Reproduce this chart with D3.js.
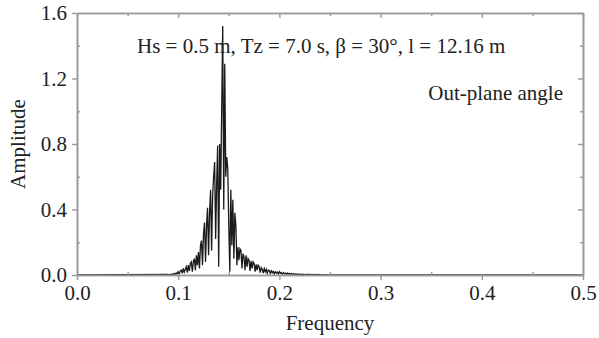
<!DOCTYPE html>
<html>
<head>
<meta charset="utf-8">
<script src="https://cdn.jsdelivr.net/npm/d3@7"></script>
<style>
  body { margin: 0; background: #fff; }
  text { font-family: "Liberation Serif", "Times New Roman", serif; fill: #222; }
</style>
</head>
<body>
<div id="chart"></div>
<script>
// spectrum, frequency grid 0.090 .. 0.250 step 0.001
const freqStart = 0.090;
const freqStep = 0.001;
const amplitude = [
  0.003, 0.001, 0.004, 0.002, 0.006, 0.002, 0.010, 0.004, 0.012, 0.006,
  0.020, 0.008, 0.024, 0.030, 0.010, 0.040, 0.018, 0.035, 0.050, 0.015,
  0.060, 0.025, 0.070, 0.080, 0.020, 0.085, 0.100, 0.030, 0.120, 0.060,
  0.140, 0.040, 0.180, 0.210, 0.060, 0.250, 0.320, 0.080, 0.300, 0.410,
  0.120, 0.380, 0.520, 0.150, 0.480, 0.600, 0.690, 0.220, 0.560, 0.790,
  0.050, 0.800, 0.520, 1.030, 1.520, 0.400, 1.290, 0.600, 0.720, 0.650,
  0.300, 0.020, 0.520, 0.180, 0.460, 0.100, 0.380, 0.300, 0.060, 0.170,
  0.090, 0.160, 0.150, 0.040, 0.130, 0.110, 0.030, 0.120, 0.050, 0.100,
  0.090, 0.025, 0.085, 0.040, 0.080, 0.070, 0.020, 0.065, 0.030, 0.060,
  0.050, 0.015, 0.045, 0.035, 0.012, 0.040, 0.020, 0.035, 0.010, 0.030,
  0.028, 0.008, 0.026, 0.015, 0.022, 0.006, 0.020, 0.012, 0.018, 0.005,
  0.020, 0.010, 0.015, 0.004, 0.014, 0.008, 0.012, 0.003, 0.012, 0.006,
  0.010, 0.003, 0.009, 0.005, 0.008, 0.002, 0.007, 0.004, 0.006, 0.002,
  0.006, 0.002, 0.005, 0.003, 0.005, 0.001, 0.004, 0.002, 0.005, 0.001,
  0.004, 0.001, 0.003, 0.002, 0.004, 0.001, 0.003, 0.001, 0.002, 0.003,
  0.001, 0.002, 0.001, 0.002, 0.001, 0.001, 0.002, 0.001, 0.001, 0.001,
  0.000
];
const xTicks = [0.0, 0.1, 0.2, 0.3, 0.4, 0.5];
const xMinor = [0.05, 0.15, 0.25, 0.35, 0.45];
const yTicks = [0.0, 0.4, 0.8, 1.2, 1.6];
const yMinor = [0.2, 0.6, 1.0, 1.4];
const caseLabel = 'Hs = 0.5 m, Tz = 7.0 s, β = 30°, l = 12.16 m';
const seriesLabel = 'Out-plane angle';

const width = 599, height = 338;
const margin = {top: 13, right: 16, bottom: 63, left: 77};
const w = width - margin.left - margin.right;
const h = height - margin.top - margin.bottom;

const data = [{f: 0, a: 0}]
  .concat(amplitude.map((a, i) => ({f: freqStart + i * freqStep, a: a})))
  .concat([{f: 0.5, a: 0}]);

const svg = d3.select('#chart').append('svg')
  .attr('width', width)
  .attr('height', height);

const g = svg.append('g')
  .attr('transform', `translate(${margin.left},${margin.top})`);

const x = d3.scaleLinear().domain([0, 0.5]).range([0, w]);
const y = d3.scaleLinear().domain([0, 1.6]).range([h, 0]);

// spectrum line
g.append('path')
  .datum(data)
  .attr('fill', 'none')
  .attr('stroke', '#1a1a1a')
  .attr('stroke-width', 1.3)
  .attr('d', d3.line().x(d => x(d.f)).y(d => y(d.a)));

const axisColor = '#9a9a9a';
const style = sel => {
  sel.select('.domain').attr('stroke', axisColor).attr('stroke-width', 1.6);
  sel.selectAll('.tick line').attr('stroke', axisColor).attr('stroke-width', 1.4);
  sel.selectAll('.tick text')
    .attr('font-size', 21)
    .attr('font-family', '"Liberation Serif", serif')
    .attr('fill', '#222');
};

// bottom: major out with labels, minor in
g.append('g').attr('transform', `translate(0,${h})`)
  .call(d3.axisBottom(x).tickValues(xMinor).tickSize(-3).tickFormat('').tickSizeOuter(0))
  .call(style);
g.append('g').attr('transform', `translate(0,${h})`)
  .call(d3.axisBottom(x).tickValues(xTicks).tickSize(5).tickPadding(5)
    .tickFormat(d3.format('.1f')).tickSizeOuter(0))
  .call(style);

// top: all ticks in
g.append('g')
  .call(d3.axisTop(x).tickValues(xMinor).tickSize(-3).tickFormat('').tickSizeOuter(0))
  .call(style);
g.append('g')
  .call(d3.axisTop(x).tickValues(xTicks).tickSize(-5).tickFormat('').tickSizeOuter(0))
  .call(style);

// left: major out with labels, minor in
g.append('g')
  .call(d3.axisLeft(y).tickValues(yMinor).tickSize(-3).tickFormat('').tickSizeOuter(0))
  .call(style);
g.append('g')
  .call(d3.axisLeft(y).tickValues(yTicks).tickSize(5).tickPadding(5)
    .tickFormat(d3.format('.1f')).tickSizeOuter(0))
  .call(style);

// right: all ticks in
g.append('g').attr('transform', `translate(${w},0)`)
  .call(d3.axisRight(y).tickValues(yMinor).tickSize(-3).tickFormat('').tickSizeOuter(0))
  .call(style);
g.append('g').attr('transform', `translate(${w},0)`)
  .call(d3.axisRight(y).tickValues(yTicks).tickSize(-5).tickFormat('').tickSizeOuter(0))
  .call(style);

// axis titles
svg.append('text')
  .attr('x', margin.left + w / 2)
  .attr('y', 330)
  .attr('text-anchor', 'middle')
  .attr('font-size', 21)
  .text('Frequency');

svg.append('text')
  .attr('transform', `translate(25,${margin.top + h / 2}) rotate(-90)`)
  .attr('text-anchor', 'middle')
  .attr('font-size', 21)
  .text('Amplitude');

// annotations
svg.append('text')
  .attr('x', 137)
  .attr('y', 53)
  .attr('font-size', 21)
  .text(caseLabel);

svg.append('text')
  .attr('x', 563)
  .attr('y', 100)
  .attr('text-anchor', 'end')
  .attr('font-size', 21)
  .text(seriesLabel);
</script>
</body>
</html>
